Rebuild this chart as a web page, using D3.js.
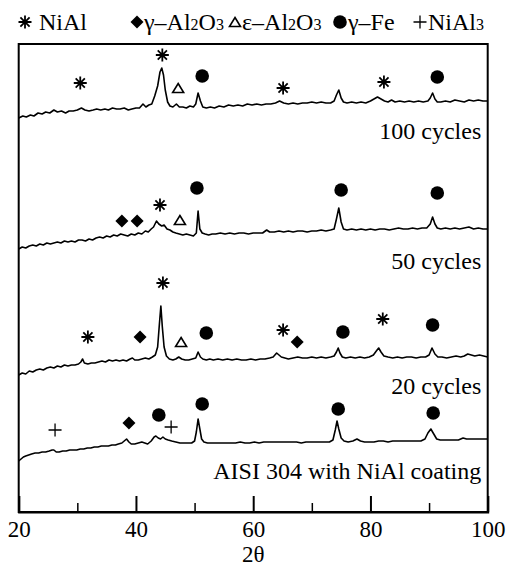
<!DOCTYPE html>
<html><head><meta charset="utf-8">
<script src="https://cdn.jsdelivr.net/npm/d3@7"></script>
<style>body{margin:0;background:#fff}svg{display:block}text{font-family:"Liberation Serif","Times New Roman",serif;fill:#000}</style>
</head><body><svg id="c" width="509" height="582"></svg>
<script>
// ---- data ----
const majorTicks = [20, 40, 60, 80, 100];
const minorTicks = [30, 50, 70, 90];
const xLabel = "2θ";
const seriesNames = ["AISI 304 with NiAl coating", "20 cycles", "50 cycles", "100 cycles"];
const seriesOffsets = [45, 130, 255, 385];
const phases = ["NiAl", "γ-Al2O3", "ε-Al2O3", "γ-Fe", "NiAl3"];

const aisi = [[20.0,6],[20.4,8],[20.8,10],[21.2,11],[21.7,12],[22.2,13],[22.8,14],[23.4,14],[24.0,15],[24.6,15],[25.2,16],[25.7,17],[26.0,17],[26.4,15],[26.9,15],[27.5,16],[28.1,16],[28.7,17],[29.3,17],[29.9,17],[30.5,18],[31.1,18],[31.7,19],[32.3,19],[32.9,20],[33.5,20],[34.1,21],[34.7,21],[35.3,21],[35.9,22],[36.5,22],[37.0,23],[37.6,24],[38.0,26],[38.4,28],[38.8,25],[39.2,23],[39.8,23],[40.4,24],[41.0,25],[41.5,24],[42.0,23],[42.6,26],[43.1,30],[43.4,31],[43.8,29],[44.2,28],[44.6,30],[45.0,28],[45.5,27],[46.1,26],[46.8,25],[47.5,24],[48.2,24],[48.9,24],[49.5,24],[50.0,26],[50.3,35],[50.6,48],[50.9,38],[51.2,28],[51.6,25],[52.2,24],[53.0,24],[53.8,24],[54.6,24],[55.4,24],[56.2,24],[57.0,24],[57.8,25],[58.6,24],[59.4,24],[60.2,25],[61.0,24],[61.8,25],[62.6,25],[63.4,25],[64.2,25],[65.0,25],[65.8,25],[66.6,25],[67.4,25],[68.2,24],[69.0,25],[69.8,25],[70.6,25],[71.4,25],[72.2,25],[73.0,25],[73.6,27],[74.0,37],[74.3,46],[74.6,38],[75.0,29],[75.5,26],[76.2,25],[77.0,26],[77.7,28],[78.3,26],[79.0,25],[79.8,25],[80.6,25],[81.4,26],[82.2,26],[83.0,25],[83.8,26],[84.6,26],[85.4,26],[86.2,26],[87.0,26],[87.8,26],[88.6,26],[89.3,28],[89.8,34],[90.3,38],[90.8,33],[91.3,28],[91.9,27],[92.6,27],[93.4,27],[94.2,27],[95.0,27],[95.8,29],[96.4,28],[97.2,28],[98.0,28],[98.8,28],[99.4,28],[100.0,28]];

const cyc20 = [[20.0,7],[20.6,9],[21.2,8],[21.8,11],[22.4,10],[23.0,12],[23.6,13],[24.2,12],[24.8,14],[25.4,15],[26.0,14],[26.6,16],[27.2,15],[27.8,17],[28.4,16],[29.0,17],[29.6,17],[30.2,18],[30.6,20],[30.9,23],[31.2,19],[31.8,18],[32.4,19],[33.0,19],[33.6,20],[34.2,21],[34.8,20],[35.4,22],[36.0,21],[36.6,22],[37.2,21],[37.8,22],[38.4,21],[39.0,23],[39.4,24],[39.8,22],[40.4,22],[41.0,23],[41.6,24],[42.2,23],[42.8,25],[43.3,27],[43.7,35],[44.0,58],[44.25,76],[44.5,55],[44.8,35],[45.2,26],[45.7,23],[46.3,22],[46.8,23],[47.3,25],[47.8,23],[48.4,22],[49.0,22],[49.6,23],[50.2,24],[50.6,30],[51.0,25],[51.4,23],[52.0,22],[52.6,23],[53.2,22],[54.0,23],[54.8,22],[55.6,23],[56.4,22],[57.2,23],[58.0,22],[58.8,22],[59.6,23],[60.4,22],[61.2,23],[62.0,23],[62.8,24],[63.4,25],[64.0,29],[64.4,27],[64.8,25],[65.4,24],[66.0,23],[66.8,24],[67.6,25],[68.4,24],[69.2,24],[70.0,25],[70.8,24],[71.6,25],[72.4,24],[73.2,25],[73.8,26],[74.2,30],[74.5,34],[74.8,29],[75.2,25],[75.8,24],[76.6,25],[77.4,24],[78.2,25],[79.0,24],[79.8,25],[80.5,27],[81.0,31],[81.4,34],[81.8,30],[82.3,26],[83.0,25],[83.8,24],[84.6,25],[85.4,24],[86.2,25],[87.0,25],[87.8,24],[88.6,25],[89.4,25],[90.0,27],[90.5,34],[91.0,28],[91.5,25],[92.2,25],[93.0,24],[93.8,25],[94.6,26],[95.4,25],[96.0,26],[96.6,28],[97.2,27],[97.8,26],[98.6,27],[99.3,26],[100.0,25]];

const cyc50 = [[20.0,8],[20.6,10],[21.2,9],[21.8,11],[22.4,12],[23.0,11],[23.6,13],[24.2,12],[24.8,14],[25.4,13],[26.0,14],[26.6,15],[27.2,14],[27.8,16],[28.4,15],[29.0,16],[29.6,15],[30.2,17],[30.8,17],[31.4,16],[32.0,18],[32.6,17],[33.2,19],[33.8,20],[34.4,19],[35.0,21],[35.6,20],[36.2,22],[36.8,21],[37.4,23],[38.0,22],[38.6,21],[39.2,23],[39.8,22],[40.4,24],[41.0,23],[41.6,26],[42.1,25],[42.6,28],[43.0,30],[43.5,36],[43.9,33],[44.4,31],[44.8,32],[45.3,28],[45.8,27],[46.3,25],[46.8,24],[47.4,23],[48.0,22],[48.6,23],[49.2,22],[49.8,21],[50.3,24],[50.6,46],[50.9,28],[51.3,24],[51.8,23],[52.4,22],[53.0,23],[53.6,23],[54.4,24],[55.2,23],[56.0,24],[56.8,23],[57.6,24],[58.4,24],[59.2,23],[60.0,24],[60.8,24],[61.6,24],[62.3,27],[62.8,25],[63.6,25],[64.4,26],[65.2,25],[66.0,26],[66.8,25],[67.6,26],[68.4,26],[69.2,25],[70.0,26],[70.8,26],[71.6,27],[72.4,26],[73.2,27],[73.8,28],[74.2,38],[74.6,49],[75.0,35],[75.4,28],[76.0,27],[76.8,28],[77.6,27],[78.4,28],[79.2,27],[80.0,28],[80.8,27],[81.6,28],[82.4,28],[83.2,27],[84.0,28],[84.8,29],[85.6,28],[86.4,28],[87.2,29],[88.0,28],[88.8,29],[89.6,29],[90.2,33],[90.6,40],[91.0,33],[91.4,29],[92.0,28],[92.8,29],[93.6,28],[94.4,29],[95.2,28],[96.0,29],[96.8,30],[97.6,28],[98.4,29],[99.2,28],[100.0,28]];

const cyc100 = [[20.0,9],[20.7,11],[21.3,10],[22.0,12],[22.6,11],[23.3,14],[24.0,13],[24.6,15],[25.3,14],[26.0,17],[26.6,15],[27.3,16],[28.0,14],[28.6,16],[29.3,16],[30.0,17],[30.7,19],[31.3,17],[32.0,16],[32.7,17],[33.3,18],[34.0,17],[34.7,18],[35.3,17],[36.0,19],[36.7,18],[37.3,18],[38.0,19],[38.7,17],[39.3,18],[40.0,19],[40.6,19],[41.2,23],[41.7,20],[42.2,22],[42.7,23],[43.2,31],[43.7,41],[44.1,55],[44.4,59],[44.7,52],[45.0,37],[45.4,25],[45.8,21],[46.3,20],[46.9,23],[47.4,20],[48.0,20],[48.6,19],[49.2,21],[49.8,20],[50.2,23],[50.6,34],[51.0,26],[51.4,20],[52.0,19],[52.7,20],[53.4,19],[54.2,21],[55.0,20],[55.8,22],[56.6,21],[57.4,22],[58.2,21],[59.0,23],[59.8,22],[60.6,23],[61.4,22],[62.2,23],[63.0,23],[63.8,24],[64.5,26],[65.2,24],[66.0,23],[66.8,24],[67.6,23],[68.4,24],[69.2,24],[70.0,25],[70.8,24],[71.6,25],[72.4,24],[73.2,24],[73.8,26],[74.2,32],[74.6,37],[75.0,29],[75.4,25],[76.0,24],[76.8,25],[77.6,24],[78.4,25],[79.2,24],[80.0,26],[80.6,28],[81.2,30],[81.8,28],[82.4,26],[83.0,25],[83.6,27],[84.2,25],[85.0,26],[85.8,25],[86.6,26],[87.4,25],[88.2,26],[89.0,25],[89.8,26],[90.2,29],[90.6,34],[91.0,28],[91.4,25],[92.0,25],[92.8,26],[93.6,25],[94.4,27],[95.2,26],[96.0,25],[96.8,27],[97.6,26],[98.4,27],[99.2,26],[100.0,26]];

const marksAISI = [[26.2,37,"NiAl3"],[38.8,44,"γ-Al2O3"],[43.9,52,"γ-Fe"],[46.0,40,"NiAl3"],[51.3,63,"γ-Fe"],[74.5,58,"γ-Fe"],[90.7,54,"γ-Fe"]];
const marks20 = [[31.8,45,"NiAl"],[40.7,45,"γ-Al2O3"],[44.6,99,"NiAl"],[47.7,40,"ε-Al2O3"],[52.0,49,"γ-Fe"],[65.1,52,"NiAl"],[67.5,40,"γ-Al2O3"],[75.3,50,"γ-Fe"],[82.1,63,"NiAl"],[90.6,57,"γ-Fe"]];
const marks50 = [[37.6,36,"γ-Al2O3"],[40.2,36,"γ-Al2O3"],[44.1,52,"NiAl"],[47.5,37,"ε-Al2O3"],[50.4,69,"γ-Fe"],[75.0,67,"γ-Fe"],[91.4,64,"γ-Fe"]];
const marks100 = [[30.5,44,"NiAl"],[44.5,72,"NiAl"],[47.2,39,"ε-Al2O3"],[51.3,51,"γ-Fe"],[65.1,39,"NiAl"],[82.3,45,"NiAl"],[91.4,50,"γ-Fe"]];

const seriesData = [aisi, cyc20, cyc50, cyc100];
const seriesMarks = [marksAISI, marks20, marks50, marks100];

// ---- chart ----
const svg = d3.select("#c");
const L = 18.7, R = 487.7, T = 44, B = 512;
const x = d3.scaleLinear().domain([20, 100]).range([L, R]);
const y = d3.scaleLinear().domain([0, 468]).range([B, T]);

function drawMark(g, type, cx, cy) {
  if (type === "NiAl") {
    const s = 6.5;
    let d = "";
    [90, 0, 45, 135].forEach(a => {
      const r = a * Math.PI / 180, dx = Math.cos(r) * s, dy = Math.sin(r) * s;
      d += `M${cx - dx},${cy - dy}L${cx + dx},${cy + dy}`;
    });
    g.append("path").attr("d", d).attr("stroke", "#000").attr("stroke-width", 1.8).attr("fill", "none");
  } else if (type === "γ-Al2O3") {
    const s = 6.5;
    g.append("path").attr("d", `M${cx},${cy - s}L${cx + s},${cy}L${cx},${cy + s}L${cx - s},${cy}Z`).attr("fill", "#000");
  } else if (type === "ε-Al2O3") {
    const w = 5.5, h = 9;
    g.append("path").attr("d", `M${cx},${cy - h / 2}L${cx + w},${cy + h / 2}L${cx - w},${cy + h / 2}Z`)
      .attr("fill", "none").attr("stroke", "#000").attr("stroke-width", 1.6).attr("stroke-linejoin", "miter");
  } else if (type === "γ-Fe") {
    g.append("circle").attr("cx", cx).attr("cy", cy).attr("r", 6.8).attr("fill", "#000");
  } else if (type === "NiAl3") {
    const s = 6.5;
    g.append("path").attr("d", `M${cx - s},${cy}L${cx + s},${cy}M${cx},${cy - s}L${cx},${cy + s}`)
      .attr("stroke", "#000").attr("stroke-width", 1.3);
  }
}

// frame
svg.append("rect").attr("x", L).attr("y", T).attr("width", R - L).attr("height", B - T)
  .attr("fill", "none").attr("stroke", "#000").attr("stroke-width", 2);

// x axis (ticks inward)
const axMajor = svg.append("g").attr("transform", `translate(0,${B})`)
  .call(d3.axisBottom(x).tickValues(majorTicks).tickSize(-16).tickPadding(9).tickFormat(d3.format("d")));
axMajor.select(".domain").attr("stroke-width", 2);
axMajor.selectAll(".tick line").attr("stroke-width", 2);
axMajor.selectAll("text").style("font-family", "'Liberation Serif',serif").style("font-size", "23px").attr("fill", "#000");
const axMinor = svg.append("g").attr("transform", `translate(0,${B})`)
  .call(d3.axisBottom(x).tickValues(minorTicks).tickSize(-9).tickFormat(""));
axMinor.select(".domain").remove();
axMinor.selectAll(".tick line").attr("stroke-width", 1.5);

svg.append("text").attr("x", (L + R) / 2).attr("y", 562).attr("text-anchor", "middle")
  .style("font-size", "23px").text(xLabel);

// traces
seriesData.forEach((data, i) => {
  const off = seriesOffsets[i];
  svg.append("path").datum(data)
    .attr("d", d3.line().x(d => x(d[0])).y(d => y(off + d[1]))(data))
    .attr("fill", "none").attr("stroke", "#000").attr("stroke-width", 1.6).attr("stroke-linejoin", "round");
  const g = svg.append("g");
  seriesMarks[i].forEach(m => drawMark(g, m[2], x(m[0]), y(off + m[1])));
  svg.append("text").attr("x", x(98.9)).attr("y", y(off - 12)).attr("text-anchor", "end")
    .style("font-size", "24px").text(seriesNames[i]);
});

// legend
const legendX = [25, 137, 235, 340, 420];
const lg = svg.append("g");
phases.forEach((p, i) => drawMark(lg, p, legendX[i], 22));
function legendText(xp, parts) {
  const t = svg.append("text").attr("x", xp).attr("y", 30).style("font-size", "24px");
  parts.forEach(pt => {
    const ts = t.append("tspan").text(pt[0]);
    if (pt[1]) ts.style("font-size", "16px");
  });
}
legendText(39, [["NiAl"]]);
legendText(144, [["γ–Al"], ["2", 1], ["O"], ["3", 1]]);
legendText(242, [["ε–Al"], ["2", 1], ["O"], ["3", 1]]);
legendText(348, [["γ–Fe"]]);
legendText(428, [["NiAl"], ["3", 1]]);
</script></body></html>
